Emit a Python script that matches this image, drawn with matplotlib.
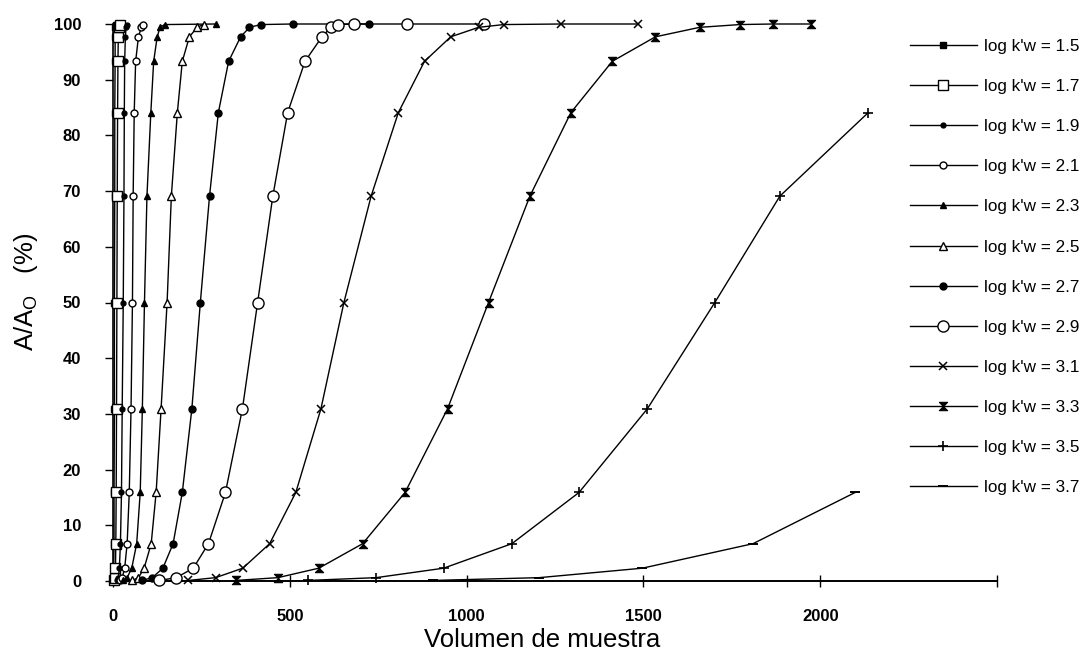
import matplotlib
matplotlib.use("Agg")
import matplotlib.pyplot as plt
from matplotlib.path import Path
from matplotlib.lines import Line2D

plt.rcParams['font.family'] = ['Liberation Sans', 'DejaVu Sans']

# Breakthrough levels (% of A/Ao) shared by the curves
levels = [0.1, 0.6, 2.3, 6.7, 15.9, 30.9, 50.0, 69.1, 84.1, 93.3, 97.7, 99.4, 99.9]

# Sample volume for each log k'w curve
vol_15 = [1, 2, 2, 3, 3, 4, 4, 5, 5, 6, 6, 7, 8]
vol_17 = [4, 6, 7, 8, 9, 10, 11, 12, 13, 14, 15, 17, 20]
vol_19 = [12, 15, 18, 21, 24, 26, 29, 31, 32, 33, 35, 37, 40]
vol_21 = [20, 26, 33, 40, 46, 51, 55, 57, 60, 64, 72, 80, 86]
vol_23 = [28, 40, 53, 67, 77, 83, 89, 96, 107, 115, 125, 133, 146, 290]
vol_25 = [55, 72, 88, 108, 122, 136, 153, 165, 182, 196, 216, 238, 256]
vol_27 = [82, 111, 141, 170, 196, 223, 247, 273, 298, 327, 361, 386, 418, 509, 724]
vol_29 = [131, 179, 227, 270, 318, 366, 409, 452, 494, 543, 591, 616, 636, 682, 832, 1048]
vol_31 = [213, 290, 367, 443, 517, 588, 653, 730, 807, 881, 955, 1034, 1105, 1267, 1486]
vol_33 = [347, 466, 582, 706, 826, 946, 1062, 1179, 1295, 1412, 1534, 1659, 1773, 1866, 1974]
vol_35 = [551, 744, 935, 1128, 1318, 1511, 1702, 1886, 2136]
vol_37 = [905, 1205, 1497, 1810, 2099]

# Recovery for each curve (levels, then plateau points at 100 %)
rec_15 = levels
rec_17 = levels
rec_19 = levels
rec_21 = levels
rec_23 = levels + [100.0]
rec_25 = levels
rec_27 = levels + [100.0, 100.0]
rec_29 = levels + [100.0, 100.0, 100.0]
rec_31 = levels + [100.0, 100.0]
rec_33 = levels + [100.0, 100.0]
rec_35 = [0.1, 0.6, 2.3, 6.7, 15.9, 30.9, 50.0, 69.1, 84.1]
rec_37 = [0.1, 0.6, 2.3, 6.7, 15.9]

labels = ["log k'w = 1.5", "log k'w = 1.7", "log k'w = 1.9", "log k'w = 2.1",
          "log k'w = 2.3", "log k'w = 2.5", "log k'w = 2.7", "log k'w = 2.9",
          "log k'w = 3.1", "log k'w = 3.3", "log k'w = 3.5", "log k'w = 3.7"]

x_ticks = [0, 500, 1000, 1500, 2000, 2500]
x_ticklabels = ["0", "500", "1000", "1500", "2000", ""]
y_ticks = [0, 10, 20, 30, 40, 50, 60, 70, 80, 90, 100]

# hourglass marker
hourglass = Path([(-1, 1), (1, 1), (-1, -1), (1, -1), (-1, 1)])

styles = [
    dict(marker='s', ms=5, mfc='black', mec='black'),
    dict(marker='s', ms=6.5, mfc='white', mec='black'),
    dict(marker='o', ms=3.5, mfc='black', mec='black'),
    dict(marker='o', ms=5, mfc='white', mec='black'),
    dict(marker='^', ms=4, mfc='black', mec='black'),
    dict(marker='^', ms=6, mfc='white', mec='black'),
    dict(marker='o', ms=5, mfc='black', mec='black'),
    dict(marker='o', ms=8, mfc='white', mec='black'),
    dict(marker='x', ms=6, mfc='black', mec='black', mew=1.1),
    dict(marker=hourglass, ms=6, mfc='black', mec='black', mew=0.8),
    dict(marker='+', ms=7, mfc='black', mec='black', mew=1.2),
    dict(marker='_', ms=7, mfc='black', mec='black', mew=1.4),
]

series = [(vol_15, rec_15), (vol_17, rec_17), (vol_19, rec_19), (vol_21, rec_21),
          (vol_23, rec_23), (vol_25, rec_25), (vol_27, rec_27), (vol_29, rec_29),
          (vol_31, rec_31), (vol_33, rec_33), (vol_35, rec_35), (vol_37, rec_37)]

fig = plt.figure(figsize=(10.84, 6.56), dpi=100)
ax = fig.add_axes([113 / 1084, 1 - 581 / 656, 884 / 1084, 557 / 656])

handles = []
for (xv, yv), st, lab in zip(series, styles, labels):
    ax.plot(xv, yv, color='black', lw=1.0, clip_on=False, zorder=3, **st)
    handles.append(Line2D([], [], color='black', lw=1.0, **st))

ax.set_xlim(0, 2500)
ax.set_ylim(0, 100)
ax.set_xticks(x_ticks)
ax.set_xticklabels(x_ticklabels)
ax.set_yticks(y_ticks)
for s in ['top', 'right']:
    ax.spines[s].set_visible(False)
ax.spines['left'].set_linewidth(1.2)
ax.spines['bottom'].set_linewidth(1.4)
ax.tick_params(axis='x', direction='inout', length=9, width=1.0, pad=16,
               labelsize=12)
ax.tick_params(axis='y', direction='out', length=6, width=1.0, pad=17,
               labelsize=12)
for t in ax.get_xticklabels() + ax.get_yticklabels():
    t.set_fontweight('bold')

ax.set_xlabel("Volumen de muestra", fontsize=18.5)
ax.xaxis.set_label_coords(0.486, -0.085)
ax.set_ylabel(r"A/A$_\mathregular{O}$   (%)", fontsize=18.5)
ax.yaxis.set_label_coords(-0.083, 0.52)

leg = fig.legend(handles, labels, loc='upper left',
                 bbox_to_anchor=(910 / 1084, 1 - 39 / 656),
                 frameon=False, fontsize=12.3, handlelength=3.9,
                 handletextpad=0.46, labelspacing=1.47,
                 borderpad=0, borderaxespad=0)

fig.savefig("out.png", dpi=100)
